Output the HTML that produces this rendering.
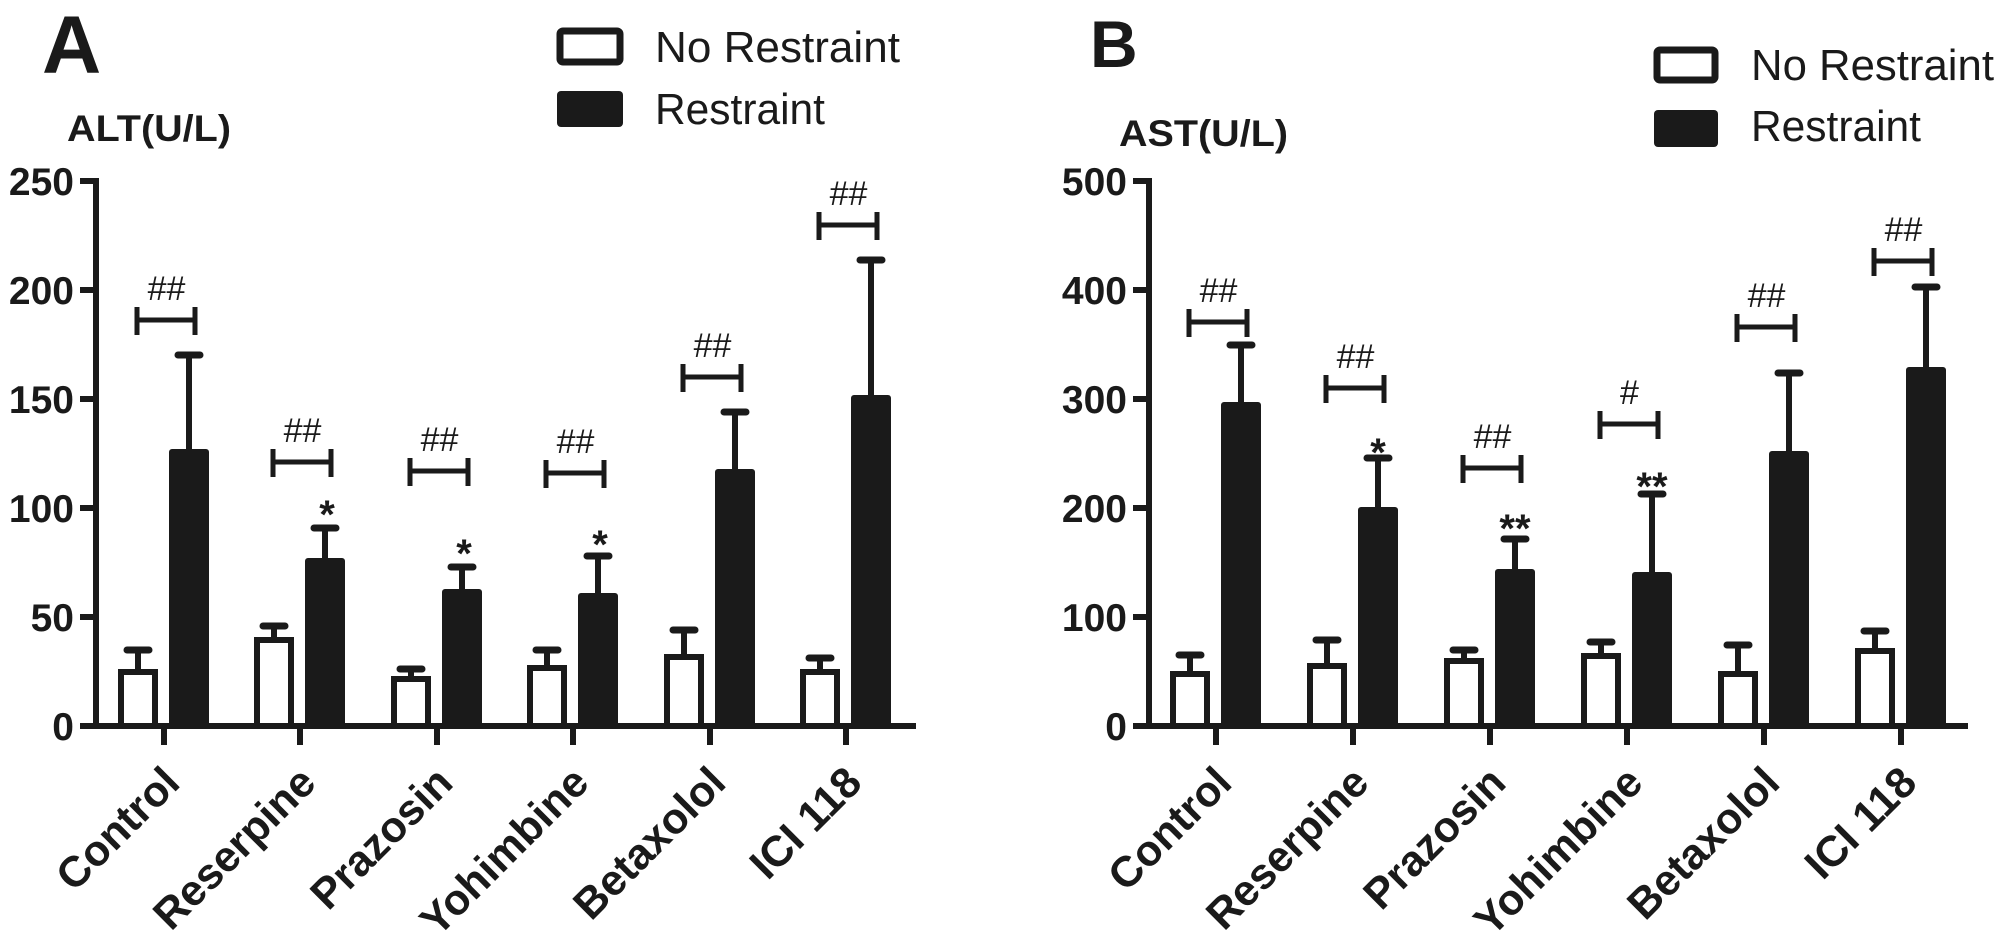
<!DOCTYPE html>
<html><head><meta charset="utf-8"><style>html,body{margin:0;padding:0;background:#fff}svg{display:block}</style></head>
<body>
<svg width="2000" height="936" viewBox="0 0 2000 936" xmlns="http://www.w3.org/2000/svg" font-family="Liberation Sans, sans-serif">
<rect width="2000" height="936" fill="#fff"/>
<g fill="#1a1a1a" stroke="none">
<text x="42" y="73" font-size="82" font-weight="bold">A</text>
<text x="67" y="141" font-size="37" font-weight="bold" textLength="164" lengthAdjust="spacingAndGlyphs">ALT(U/L)</text>
<text x="655" y="62" font-size="44" textLength="245" lengthAdjust="spacingAndGlyphs">No Restraint</text>
<text x="655" y="124" font-size="44" textLength="170" lengthAdjust="spacingAndGlyphs">Restraint</text>
<text x="1090" y="67" font-size="66" font-weight="bold">B</text>
<text x="1119" y="146" font-size="37" font-weight="bold" textLength="169" lengthAdjust="spacingAndGlyphs">AST(U/L)</text>
<text x="1751" y="80" font-size="44" textLength="243" lengthAdjust="spacingAndGlyphs">No Restraint</text>
<text x="1751" y="141" font-size="44" textLength="170" lengthAdjust="spacingAndGlyphs">Restraint</text>
</g>
<rect x="560" y="31" width="60" height="31" rx="3" fill="#fff" stroke="#1a1a1a" stroke-width="7"/>
<rect x="557" y="91" width="66" height="36" rx="4" fill="#1a1a1a"/>
<rect x="1657" y="50" width="58" height="30" rx="3" fill="#fff" stroke="#1a1a1a" stroke-width="7"/>
<rect x="1654" y="110" width="64" height="37" rx="4" fill="#1a1a1a"/>

<g stroke="#1a1a1a" stroke-width="6" fill="none">
<line x1="96" y1="178" x2="96" y2="729"/>
<line x1="80" y1="726" x2="916" y2="726"/>
<line x1="80" y1="181" x2="96" y2="181"/><line x1="80" y1="290" x2="96" y2="290"/><line x1="80" y1="399" x2="96" y2="399"/><line x1="80" y1="508" x2="96" y2="508"/><line x1="80" y1="617" x2="96" y2="617"/>
<line x1="164" y1="726" x2="164" y2="745"/><line x1="300" y1="726" x2="300" y2="745"/><line x1="437" y1="726" x2="437" y2="745"/><line x1="573" y1="726" x2="573" y2="745"/><line x1="710" y1="726" x2="710" y2="745"/><line x1="846" y1="726" x2="846" y2="745"/>
<line x1="1149" y1="178" x2="1149" y2="729"/>
<line x1="1133" y1="726" x2="1968" y2="726"/>
<line x1="1133" y1="181" x2="1149" y2="181"/><line x1="1133" y1="290" x2="1149" y2="290"/><line x1="1133" y1="399" x2="1149" y2="399"/><line x1="1133" y1="508" x2="1149" y2="508"/><line x1="1133" y1="617" x2="1149" y2="617"/>
<line x1="1216" y1="726" x2="1216" y2="745"/><line x1="1353" y1="726" x2="1353" y2="745"/><line x1="1490" y1="726" x2="1490" y2="745"/><line x1="1627" y1="726" x2="1627" y2="745"/><line x1="1764" y1="726" x2="1764" y2="745"/><line x1="1901" y1="726" x2="1901" y2="745"/>
</g>
<g font-size="39" font-weight="bold" fill="#1a1a1a" text-anchor="end">
<text x="74" y="740">0</text><text x="74" y="631">50</text><text x="74" y="522">100</text><text x="74" y="413">150</text><text x="74" y="304">200</text><text x="74" y="195">250</text>
<text x="1127" y="740">0</text><text x="1127" y="631">100</text><text x="1127" y="522">200</text><text x="1127" y="413">300</text><text x="1127" y="304">400</text><text x="1127" y="195">500</text>
</g>

<g stroke="#1a1a1a" stroke-width="6" stroke-linecap="round">
<line x1="138" y1="669" x2="138" y2="650"/><line x1="127" y1="650" x2="149" y2="650" stroke-width="7"/>
<line x1="274" y1="637" x2="274" y2="626"/><line x1="263" y1="626" x2="285" y2="626" stroke-width="7"/>
<line x1="411" y1="676" x2="411" y2="669"/><line x1="400" y1="669" x2="422" y2="669" stroke-width="7"/>
<line x1="547" y1="665" x2="547" y2="650"/><line x1="536" y1="650" x2="558" y2="650" stroke-width="7"/>
<line x1="684" y1="654" x2="684" y2="630"/><line x1="673" y1="630" x2="695" y2="630" stroke-width="7"/>
<line x1="820" y1="669" x2="820" y2="658"/><line x1="809" y1="658" x2="831" y2="658" stroke-width="7"/>
<line x1="189" y1="449" x2="189" y2="355"/><line x1="178" y1="355" x2="200" y2="355" stroke-width="7"/>
<line x1="325" y1="558" x2="325" y2="528"/><line x1="314" y1="528" x2="336" y2="528" stroke-width="7"/>
<line x1="462" y1="589" x2="462" y2="567"/><line x1="451" y1="567" x2="473" y2="567" stroke-width="7"/>
<line x1="598" y1="593" x2="598" y2="556"/><line x1="587" y1="556" x2="609" y2="556" stroke-width="7"/>
<line x1="735" y1="469" x2="735" y2="412"/><line x1="724" y1="412" x2="746" y2="412" stroke-width="7"/>
<line x1="871" y1="395" x2="871" y2="260"/><line x1="860" y1="260" x2="882" y2="260" stroke-width="7"/>
<line x1="1190" y1="671" x2="1190" y2="655"/><line x1="1179" y1="655" x2="1201" y2="655" stroke-width="7"/>
<line x1="1327" y1="663" x2="1327" y2="640"/><line x1="1316" y1="640" x2="1338" y2="640" stroke-width="7"/>
<line x1="1464" y1="658" x2="1464" y2="650"/><line x1="1453" y1="650" x2="1475" y2="650" stroke-width="7"/>
<line x1="1601" y1="653" x2="1601" y2="642"/><line x1="1590" y1="642" x2="1612" y2="642" stroke-width="7"/>
<line x1="1738" y1="671" x2="1738" y2="645"/><line x1="1727" y1="645" x2="1749" y2="645" stroke-width="7"/>
<line x1="1875" y1="649" x2="1875" y2="631"/><line x1="1864" y1="631" x2="1886" y2="631" stroke-width="7"/>
<line x1="1241" y1="402" x2="1241" y2="345"/><line x1="1230" y1="345" x2="1252" y2="345" stroke-width="7"/>
<line x1="1378" y1="507" x2="1378" y2="458"/><line x1="1367" y1="458" x2="1389" y2="458" stroke-width="7"/>
<line x1="1515" y1="569" x2="1515" y2="539"/><line x1="1504" y1="539" x2="1526" y2="539" stroke-width="7"/>
<line x1="1652" y1="572" x2="1652" y2="494"/><line x1="1641" y1="494" x2="1663" y2="494" stroke-width="7"/>
<line x1="1789" y1="451" x2="1789" y2="373"/><line x1="1778" y1="373" x2="1800" y2="373" stroke-width="7"/>
<line x1="1926" y1="367" x2="1926" y2="287"/><line x1="1915" y1="287" x2="1937" y2="287" stroke-width="7"/>
</g>

<g fill="#fff" stroke="#1a1a1a" stroke-width="6">
<rect x="121" y="672" width="34" height="54"/>
<rect x="257" y="640" width="34" height="86"/>
<rect x="394" y="679" width="34" height="47"/>
<rect x="530" y="668" width="34" height="58"/>
<rect x="667" y="657" width="34" height="69"/>
<rect x="803" y="672" width="34" height="54"/>
<rect x="1173" y="674" width="34" height="52"/>
<rect x="1310" y="666" width="34" height="60"/>
<rect x="1447" y="661" width="34" height="65"/>
<rect x="1584" y="656" width="34" height="70"/>
<rect x="1721" y="674" width="34" height="52"/>
<rect x="1858" y="651" width="34" height="75"/>
</g>
<g fill="#1a1a1a">
<rect x="169" y="449" width="40" height="277" rx="3"/>
<rect x="305" y="558" width="40" height="168" rx="3"/>
<rect x="442" y="589" width="40" height="137" rx="3"/>
<rect x="578" y="593" width="40" height="133" rx="3"/>
<rect x="715" y="469" width="40" height="257" rx="3"/>
<rect x="851" y="395" width="40" height="331" rx="3"/>
<rect x="1221" y="402" width="40" height="324" rx="3"/>
<rect x="1358" y="507" width="40" height="219" rx="3"/>
<rect x="1495" y="569" width="40" height="157" rx="3"/>
<rect x="1632" y="572" width="40" height="154" rx="3"/>
<rect x="1769" y="451" width="40" height="275" rx="3"/>
<rect x="1906" y="367" width="40" height="359" rx="3"/>
</g>

<g stroke="#1a1a1a" stroke-width="5" fill="none">
<path d="M137 307V335M137 320H195M195 307V335"/>
<path d="M273 449V477M273 462H331M331 449V477"/>
<path d="M410 458V486M410 471H468M468 458V486"/>
<path d="M546 460V488M546 473H604M604 460V488"/>
<path d="M683 364V392M683 377H741M741 364V392"/>
<path d="M819 212V240M819 225H877M877 212V240"/>
<path d="M1189 309V337M1189 322H1247M1247 309V337"/>
<path d="M1326 375V403M1326 388H1384M1384 375V403"/>
<path d="M1463 455V483M1463 468H1521M1521 455V483"/>
<path d="M1600 411V439M1600 424H1658M1658 411V439"/>
<path d="M1737 314V342M1737 327H1795M1795 314V342"/>
<path d="M1874 248V276M1874 261H1932M1932 248V276"/>
</g>
<g font-size="34" fill="#1a1a1a" text-anchor="middle" font-style="italic">
<text x="166" y="300">##</text>
<text x="302" y="442">##</text>
<text x="439" y="451">##</text>
<text x="575" y="453">##</text>
<text x="712" y="357">##</text>
<text x="848" y="205">##</text>
<text x="1218" y="302">##</text>
<text x="1355" y="368">##</text>
<text x="1492" y="448">##</text>
<text x="1629" y="404">#</text>
<text x="1766" y="307">##</text>
<text x="1903" y="241">##</text>
</g>
<g font-size="40" font-weight="bold" fill="#1a1a1a" text-anchor="middle">
<text x="327" y="528">*</text>
<text x="464" y="567">*</text>
<text x="600" y="558">*</text>
<text x="1378" y="466">*</text>
<text x="1515" y="542">**</text>
<text x="1652" y="500">**</text>
</g>

<g font-size="43" font-weight="bold" fill="#1a1a1a" text-anchor="end">
<text transform="translate(182,785) rotate(-45)">Control</text>
<text transform="translate(318,785) rotate(-45)">Reserpine</text>
<text transform="translate(455,785) rotate(-45)">Prazosin</text>
<text transform="translate(591,785) rotate(-45)">Yohimbine</text>
<text transform="translate(728,785) rotate(-45)">Betaxolol</text>
<text transform="translate(864,785) rotate(-45)">ICI 118</text>
<text transform="translate(1234,785) rotate(-45)">Control</text>
<text transform="translate(1371,785) rotate(-45)">Reserpine</text>
<text transform="translate(1508,785) rotate(-45)">Prazosin</text>
<text transform="translate(1645,785) rotate(-45)">Yohimbine</text>
<text transform="translate(1782,785) rotate(-45)">Betaxolol</text>
<text transform="translate(1919,785) rotate(-45)">ICI 118</text>
</g>
</svg>
</body></html>
